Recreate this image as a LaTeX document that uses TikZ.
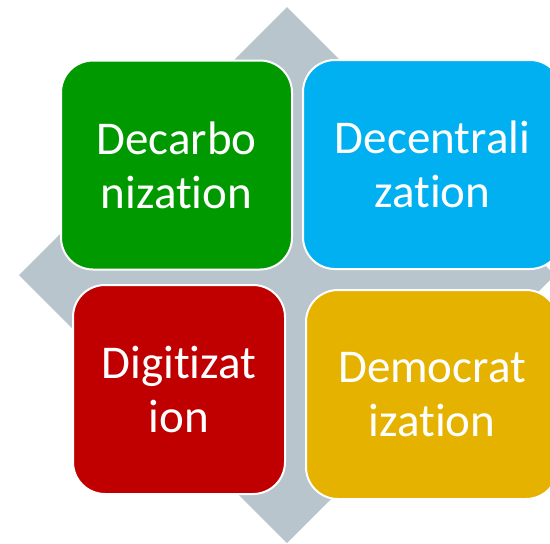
\documentclass[tikz,border=0pt]{standalone}
\usepackage{fontspec}
\setmainfont[Ligatures={NoCommon,NoRare,NoContextual}]{Carlito}
\definecolor{dgray}{RGB}{185,197,204}
\definecolor{cgreen}{RGB}{0,153,0}
\definecolor{cblue}{RGB}{0,176,240}
\definecolor{cred}{RGB}{192,0,0}
\definecolor{cyellow}{RGB}{230,178,0}
\begin{document}
\begin{tikzpicture}[x=1pt,y=-1pt,
  quad/.style={draw=white,line width=2pt,rounded corners=32pt,text=white,
    align=center,inner sep=0pt,font=\fontsize{47}{54}\selectfont,
    minimum height=209pt}]
\useasboundingbox (0,0) rectangle (550,544);
\fill[dgray] (287,7) -- (555,275) -- (287,543) -- (19,275) -- cycle;
\node[quad,fill=cgreen,minimum width=231pt] (dec) at (176.5,165) {Decarbo\\nization};
\node[quad,fill=cblue,minimum width=259pt] (cen) at (432.5,164.5) {Decentrali\\zation};
\node[quad,fill=cred,minimum width=212pt] (dig) at (179,389.5) {Digitizat\\ion};
\node[quad,fill=cyellow,minimum width=252pt] (dem) at (432,394.5) {Democrat\\ization};
\end{tikzpicture}
\end{document}
